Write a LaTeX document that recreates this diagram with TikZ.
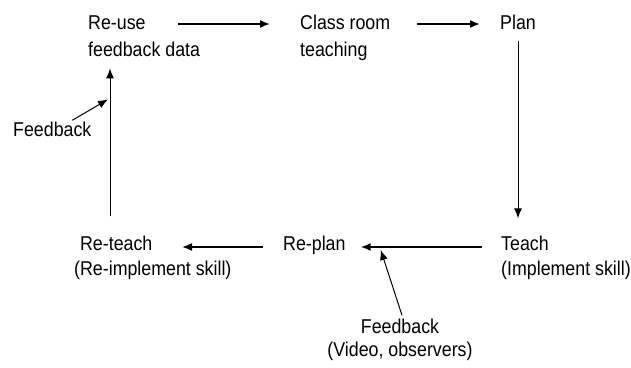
\documentclass[tikz,border=0pt]{standalone}
\usepackage{fontspec}
\setmainfont[FakeStretch=0.89]{Liberation Sans}
\usetikzlibrary{arrows.meta}
\begin{document}
\begin{tikzpicture}[x=1pt, y=1pt,
  step node/.style={inner sep=0pt, anchor=base west, align=left, font=\fontsize{20}{25}\selectfont},
  top node/.style={step node, font=\fontsize{20}{27}\selectfont},
  note node/.style={inner sep=0pt, anchor=base, align=center, font=\fontsize{20}{23}\selectfont},
  flow/.style={-{Latex[length=10pt,width=8pt]}, line width=1.6pt},
  thin flow/.style={-{Latex[length=10pt,width=8pt]}, line width=1pt}]
\useasboundingbox (0,0) rectangle (631,367);
% top row (base = last line)
\node[top node] (reuse) at (88,310) {Re-use\\feedback data};
\node[top node] (class) at (300,310) {Class room\\teaching};
\node[top node] (plan) at (500,337) {Plan};
% bottom row
\node[step node] (teach) at (501,92) {Teach\\(Implement skill)};
\node[step node] (replan) at (283,117) {Re-plan};
\node[step node] (reteach) at (74,92) {\phantom{(}Re-teach\\(Re-implement skill)};
\node[note node] (fbbottom) at (400,11) {Feedback\\(Video, observers)};
\node[step node] (fbleft) at (13,230) {Feedback};
\draw[flow] ([xshift=-22pt,yshift=33pt]reuse.base east) -- ([xshift=-30pt,yshift=33pt]class.base west);
\draw[flow] ([xshift=27pt,yshift=33pt]class.base east) -- ([xshift=-20pt,yshift=6pt]plan.base west);
\draw[thin flow] ([yshift=-11pt]plan.south) -- ([yshift=17pt]plan.south |- teach.north);
\draw[flow] ([xshift=-19pt,yshift=28pt]teach.base west) -- ([xshift=15pt,yshift=3pt]replan.base east);
\draw[flow] ([xshift=-20pt,yshift=3pt]replan.base west) -- ([xshift=108pt,yshift=28pt]reteach.base west);
\draw[thin flow] ([xshift=36pt,yshift=19pt]reteach.north west) -- ([xshift=22pt,yshift=-11pt]reuse.south west);
\draw[thin flow] ([xshift=20pt,yshift=2pt]fbleft.north) -- ([xshift=20pt,yshift=-42pt]reuse.south west);
\draw[thin flow] ([xshift=2pt,yshift=3pt]fbbottom.north) -- ([xshift=35pt]replan.base east);
\end{tikzpicture}
\end{document}
